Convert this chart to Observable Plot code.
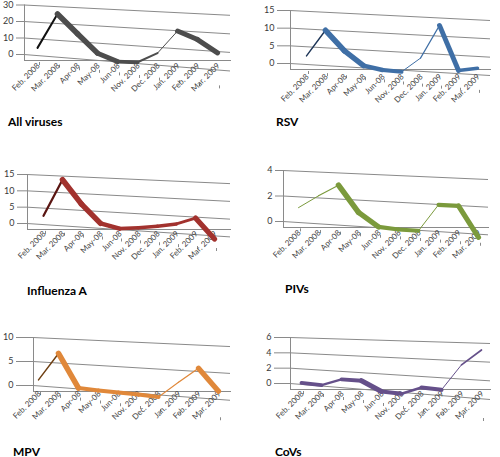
<!DOCTYPE html>
<html><head><meta charset="utf-8">
<script src="https://cdn.jsdelivr.net/npm/d3@7"></script>
<script src="https://cdn.jsdelivr.net/npm/@observablehq/plot@0.6"></script>
<style>
body{margin:0;background:#fff;}
#root{position:relative;width:500px;height:457px;overflow:hidden;background:#fff;font-family:Lato,"Open Sans",sans-serif;}
.panel{position:absolute;}
.title{position:absolute;font-weight:bold;font-size:12px;color:#000;white-space:nowrap;line-height:1;font-family:Lato,"Open Sans",sans-serif;}
</style></head><body><div id="root"></div>
<script>
// ---- data ----
const months = ["Feb. 2008","Mar. 2008","Apr-08","May-08","Jun-08","Nov. 2008","Dec. 2008","Jan. 2009","Feb. 2009","Mar. 2009"];
const allViruses = [6.5, 27.5, 16.5, 6, 2, 2.5, 8.5, 21.5, 17.5, 11];
const rsv        = [3.3, 10.8, 5.3, 1.5, 0.6, 0.4, 4.5, 13.8, 1.7, 2.6];
const influenzaA = [3.6, 14.8, 7.8, 2.4, 1.2, 1.8, 2.6, 3.6, 5.6, 0];
const pivs       = [1.4, 2.4, 3.3, 1.3, 0.3, 0.2, 0.2, 2.2, 2.2, 0];
const mpv        = [1.9, 7.6, 0.8, 0.6, 0.5, 0.4, 0.2, 3.3, 6.2, 2.1];
const covs       = [0.6, 0.5, 1.4, 1.4, 0.3, 0.2, 1.1, 1.0, 3.9, 5.6];
const titles = ["All viruses","RSV","Influenza A","PIVs","MPV","CoVs"];
const ticksAll = [0,10,20,30];
const ticksRsv = [0,5,10,15];
const ticksFlu = [0,5,10,15];
const ticksPiv = [0,2,4];
const ticksMpv = [0,5,10];
const ticksCov = [0,2,4,6];

const seriesList = [allViruses, rsv, influenzaA, pivs, mpv, covs];
const tickList = [ticksAll, ticksRsv, ticksFlu, ticksPiv, ticksMpv, ticksCov];

// ---- style / layout ----
const colors = ["#4d4d4d","#3f6fa6","#a2322e","#7b9a3c","#e0883a","#65508a"];
const darkColors = ["#111111","#1d3557","#5a1512","#4a6020","#6e3f12","#3a2a55"];
const layout = [
  {left:0,   top:0,   wallL:24, wallR:230, yTop:4.5, yZero:54, inL:11, inR:8,  tick:8,  tx:8,  ty:122, sT:0.05,  sB:0.08,  sF:0.13, ldy:4},
  {left:250, top:0,   wallL:40, wallR:240, yTop:10,  yZero:63, inL:15, inR:8,  tick:13, tx:26, ty:122, sT:0.05,  sB:0.06,  sF:0.11, ldy:6},
  {left:0,   top:150, wallL:27, wallR:230, yTop:24,  yZero:73, inL:15, inR:11, tick:10, tx:27, ty:141, sT:0.045, sB:0.066, sF:0.10, ldy:3},
  {left:250, top:150, wallL:33, wallR:238, yTop:20,  yZero:71, inL:17, inR:8,  tick:8,  tx:35, ty:139, sT:0.044, sB:0.065, sF:0.08, ldy:4},
  {left:0,   top:310, wallL:33, wallR:230, yTop:27,  yZero:75, inL:7,  inR:10, tick:17, tx:13, ty:142, sT:0.046, sB:0.075, sF:0.14, ldy:1},
  {left:250, top:310, wallL:40, wallR:240, yTop:27,  yZero:73, inL:10, inR:5,  tick:16, tx:25, ty:142, sT:0.03,  sB:0.08,  sF:0.15, ldy:3}
];
const W = 250, H = 120, insetB = 6;
const gridColor = "#8a8a8a";

const root = document.getElementById("root");

seriesList.forEach((vals, i) => {
  const L = layout[i];
  const ticks = tickList[i];
  const yMax = d3.max(ticks);
  const k = (L.yZero - L.yTop) / yMax;               // px per unit
  const step = ((L.wallR - L.wallL) - L.inL - L.inR) / (months.length - 1);
  const sMid = (L.sT + L.sB) / 2;
  const n = months.length - 1;
  const segs = [];
  for (let j = 0; j < n; j++) {
    const m = -(vals[j+1] - vals[j]) * k / step + sMid; // screen slope
    const f = (j + 0.5) / n;                           // position across the chart
    const a = 6 + f, b = 8 - 2 * f;                    // ribbon depth direction
    const t = Math.max(1, 0.57 * Math.abs(a + b * m) / Math.sqrt(1 + m * m));
    segs.push({x1: months[j], y1: vals[j], x2: months[j+1], y2: vals[j+1], w: t,
               c: (m < -0.75 && f < 0.3) ? darkColors[i] : colors[i]});
  }
  const svg = Plot.plot({
    width: W, height: H,
    marginLeft: L.wallL, marginRight: W - L.wallR,
    marginTop: L.yTop, marginBottom: H - L.yZero - insetB,
    insetLeft: L.inL, insetRight: L.inR, insetBottom: insetB, insetTop: 0,
    x: {type: "point", domain: months, padding: 0},
    y: {domain: [0, yMax]},
    style: {background: "transparent", overflow: "visible", fontFamily: "Lato, 'Open Sans', sans-serif"},
    marks: [
      Plot.gridY(ticks, {stroke: gridColor, strokeOpacity: 1}),
      Plot.axisY(ticks, {tickSize: L.tick, tickPadding: 3, fontSize: 9, fill: "#3a3a3a", stroke: gridColor}),
      Plot.frame({anchor: "left", stroke: gridColor}),
      Plot.frame({anchor: "bottom", stroke: gridColor, ariaLabel: "front"}),
      Plot.axisX({tickSize: 3, fill: "none", stroke: gridColor}),
      Plot.text(months, {x: d => d, frameAnchor: "bottom", rotate: -45, textAnchor: "end", lineAnchor: "middle",
                         dx: -1, dy: L.ldy, fontSize: 8, fill: "#444", ariaLabel: "front-labels"}),
      Plot.link(segs, {x1: "x1", y1: "y1", x2: "x2", y2: "y2", stroke: "c", strokeWidth: "w",
                       strokeLinecap: "round", dx: -2, dy: 3})
    ]
  });
  // pseudo-3D perspective: shear that grows towards the floor
  const o = L.wallL;
  const warpY = (x, y) => {
    const f = Math.max(-0.2, Math.min(1.2, (y - L.yTop) / (L.yZero - L.yTop)));
    return y + (x - o) * (L.sT + (L.sB - L.sT) * f);
  };
  svg.querySelectorAll(":scope > g").forEach(g => {
    const lab = g.getAttribute("aria-label") || "";
    if (lab.startsWith("x-axis") || lab.startsWith("front")) {
      const deg = Math.atan(L.sF) * 180 / Math.PI;
      const prev = g.getAttribute("transform") || "";
      g.setAttribute("transform", `translate(${o},0) skewY(${deg}) translate(${-o},0) ${prev}`);
    } else if (lab === "y-grid") {
      g.querySelectorAll("line").forEach(ln => {
        const x1 = +ln.getAttribute("x1"), x2 = +ln.getAttribute("x2");
        const y1 = +ln.getAttribute("y1"), y2 = +ln.getAttribute("y2");
        ln.setAttribute("y1", warpY(x1, y1));
        ln.setAttribute("y2", warpY(x2, y2));
      });
    } else if (lab === "link") {
      g.querySelectorAll("path").forEach(p => {
        const d = p.getAttribute("d");
        p.setAttribute("d", d.replace(/(-?[\d.]+(?:e-?\d+)?),(-?[\d.]+(?:e-?\d+)?)/g,
          (s, a, b) => `${a},${warpY(+a, +b)}`));
      });
    }
  });
  const div = document.createElement("div");
  div.className = "panel";
  div.style.left = L.left + "px";
  div.style.top = L.top + "px";
  div.appendChild(svg);
  root.appendChild(div);
  const t = document.createElement("div");
  t.className = "title";
  t.textContent = titles[i];
  t.style.left = (L.left + L.tx) + "px";
  t.style.top = (L.top + L.ty - 6.5) + "px";
  root.appendChild(t);
});
</script></body></html>
